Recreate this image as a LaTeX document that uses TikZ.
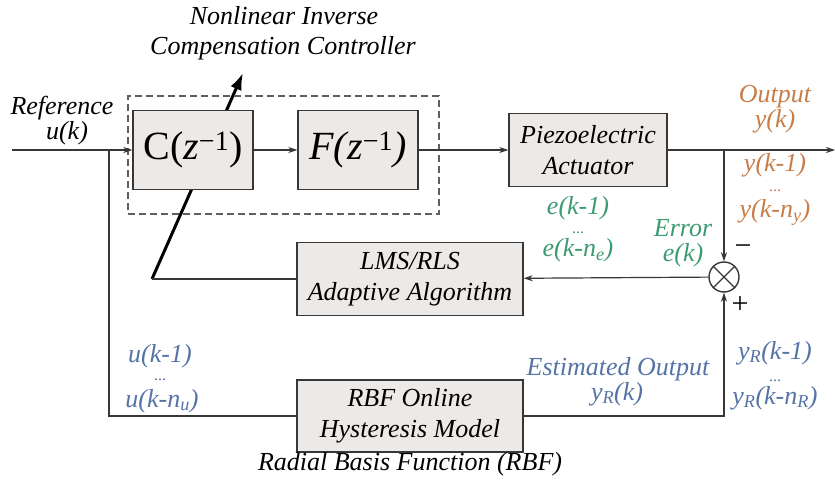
\documentclass[tikz,border=0pt]{standalone}
\usepackage{fontspec}
\setmainfont{Liberation Serif}
\usetikzlibrary{arrows.meta}

\definecolor{outorange}{RGB}{200,125,70}
\definecolor{errgreen}{RGB}{60,155,115}
\definecolor{estblue}{RGB}{85,115,165}
\definecolor{boxgray}{RGB}{237,233,231}
\definecolor{linegray}{RGB}{55,55,55}

\newcommand{\labfont}{\fontsize{26}{31}\selectfont\itshape}
\newcommand{\dotfont}{\fontsize{16}{16}\selectfont}

\tikzset{
  block/.style={draw=linegray, line width=1.4pt, fill=boxgray, align=center,
    font=\labfont, inner sep=0pt},
  group/.style={draw=linegray!80, line width=1.2pt, dash pattern=on 7pt off 4pt,
    inner sep=0pt},
  sig/.style={draw=linegray, line width=1.2pt},
  arr/.style={sig, -{Stealth[length=9pt,width=6pt]}},
  lab/.style={anchor=base, inner sep=0pt, font=\labfont},
  dots/.style={anchor=base, inner sep=0pt, font=\dotfont},
}

\begin{document}
\begin{tikzpicture}[x=1pt,y=-1pt]
  \useasboundingbox (0,0) rectangle (835,486);

  % tuning arrow, behind the controller block
  \coordinate (tune) at (152,279);
  \coordinate (tunetip) at (243,73);
  \draw[black, line width=3pt, -{Latex[length=17pt,width=12pt]}] (tune) -- (tunetip);

  % blocks
  \node[group, minimum width=311pt, minimum height=118pt] (ctrl) at (283.5,155) {};
  \node[block, minimum width=120pt, minimum height=79pt,
    font=\fontsize{40}{40}\selectfont] (C) at (193,150) {C(\textit{z}\textsuperscript{−1})};
  \node[block, minimum width=120pt, minimum height=79pt,
    font=\fontsize{40}{40}\selectfont\itshape] (F) at (358,150) {F(z\textsuperscript{\upshape −1})};
  \node[block, minimum width=158pt, minimum height=73pt] (piezo) at (588,150)
    {Piezoelectric\\Actuator};
  \node[block, minimum width=226pt, minimum height=73pt] (lms) at (410,279)
    {LMS/RLS\\Adaptive Algorithm};
  \node[block, minimum width=226pt, minimum height=72pt] (rbf) at (410,416)
    {RBF Online\\Hysteresis Model};
  \node[circle, draw=linegray, line width=1.4pt, minimum size=30pt, inner sep=0pt] (sum) at (724,277) {};
  \draw[linegray, line width=1.2pt] (sum.north west) -- (sum.south east)
    (sum.north east) -- (sum.south west);

  % signal lines
  \coordinate (in) at (12,150);
  \coordinate (split) at (109,150);
  \coordinate (tap) at (724,150);
  \coordinate (out) at (835,150);
  \draw[arr] (in) -- (C);
  \draw[arr] (C) -- (F);
  \draw[arr] (F) -- (piezo);
  \draw[arr] (piezo) -- (out);
  \draw[arr] (tap) -- (sum);
  \draw[arr] (sum) -- (lms);
  \draw[sig] (lms) -- (tune);
  \draw[sig] (split) |- (rbf.west);
  \draw[arr] (rbf.east) -| (sum.south);

  % labels
  \node[lab] (title1) at (284,25) {Nonlinear Inverse};
  \node[lab] (title2) at (283,55) {Compensation Controller};
  \node[lab] (ref1) at (62,115) {Reference};
  \node[lab] (ref2) at (67,140) {u(k)};
  \node[lab] (rbfname) at (410,470) {Radial Basis Function (RBF)};

  \node[lab, text=outorange] (out1) at (775,103) {Output};
  \node[lab, text=outorange] (out2) at (775,128) {y(k)};
  \node[lab, text=outorange] (outa) at (775,172) {y(k-1)};
  \node[dots, text=outorange] (outd) at (775,192) {...};
  \node[lab, text=outorange] (outb) at (775,218) {y(k-n\textsubscript{y})};

  \node[lab, text=errgreen] (erra) at (578,215) {e(k-1)};
  \node[dots, text=errgreen] (errd) at (578,234) {...};
  \node[lab, text=errgreen] (errb) at (578,257) {e(k-n\textsubscript{e})};
  \node[lab, text=errgreen] (err1) at (683,237) {Error};
  \node[lab, text=errgreen] (err2) at (683,262) {e(k)};

  \node[font=\fontsize{30}{30}\selectfont, inner sep=0pt] (minus) at (743,250) {−};
  \node[font=\fontsize{30}{30}\selectfont, inner sep=0pt] (plus) at (740,305) {+};

  \node[lab, text=estblue] (ua) at (160,362) {u(k-1)};
  \node[dots, text=estblue] (ud) at (160,380) {...};
  \node[lab, text=estblue] (ub) at (162,407) {u(k-n\textsubscript{u})};
  \node[lab, text=estblue] (est1) at (618,375) {Estimated Output};
  \node[lab, text=estblue] (est2) at (617,400) {y\textsubscript{R}(k)};
  \node[lab, text=estblue] (ya) at (775,359) {y\textsubscript{R}(k-1)};
  \node[dots, text=estblue] (yd) at (775,381) {...};
  \node[lab, text=estblue] (yb) at (775,404) {y\textsubscript{R}(k-n\textsubscript{R})};
\end{tikzpicture}
\end{document}
